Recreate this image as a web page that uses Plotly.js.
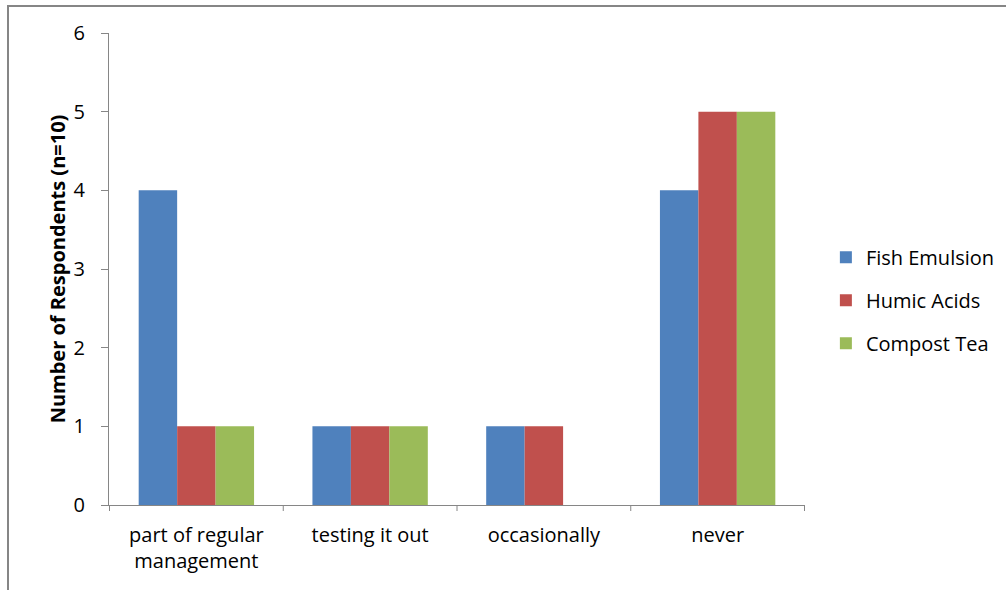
<!DOCTYPE html>
<html>
<head>
<meta charset="utf-8">
<script src="https://cdn.plot.ly/plotly-3.0.1.min.js"></script>
<style>
html,body{margin:0;padding:0;background:#fff;}
#wrap{position:relative;width:1006px;height:590px;}
#frame{position:absolute;left:7px;top:5px;width:999px;height:585px;border-left:2px solid #868686;border-top:2px solid #868686;box-sizing:border-box;pointer-events:none;z-index:5;}
#chart{position:absolute;left:0;top:0;width:1006px;height:590px;}
</style>
</head>
<body>
<div id="wrap"><div id="chart"></div><div id="frame"></div></div>
<script>
const categories = ["part of regular<br>management", "testing it out", "occasionally", "never"];
const fishEmulsion = [4, 1, 1, 4];
const humicAcids = [1, 1, 1, 5];
const compostTea = [1, 1, 0, 5];
const seriesNames = ["Fish Emulsion", "Humic Acids", "Compost Tea"];
const yTicks = [0, 1, 2, 3, 4, 5, 6];

const colors = ["#4F81BD", "#C0504D", "#9BBB59"];
const font = "'Open Sans', sans-serif";
const series = [fishEmulsion, humicAcids, compostTea];

const data = series.map((vals, i) => ({
  type: "bar",
  x: categories,
  y: vals,
  name: seriesNames[i],
  legendgroup: "g" + i,
  marker: {color: colors[i], line: {width: 0}},
  hoverinfo: "x+y+name"
}));

const layout = {
  width: 1006,
  height: 590,
  margin: {l: 109, r: 201, t: 33, b: 85, pad: 0, autoexpand: false},
  paper_bgcolor: "#fff",
  plot_bgcolor: "#fff",
  barmode: "group",
  bargap: 0.336,
  bargroupgap: 0,
  font: {family: font, size: 20, color: "#000"},
  xaxis: {
    type: "category",
    showline: true,
    linecolor: "#868686",
    linewidth: 1,
    ticks: "",
    showgrid: false,
    zeroline: false,
    automargin: false,
    tickfont: {family: font, size: 20, color: "#000"},
    ticklabelstandoff: 12
  },
  yaxis: {
    range: [0, 6],
    tickvals: yTicks,
    showline: true,
    linecolor: "#868686",
    linewidth: 1,
    ticks: "outside",
    ticklen: 7,
    tickcolor: "#868686",
    showgrid: false,
    zeroline: false,
    automargin: false,
    tickfont: {family: font, size: 20, color: "#000"},
    ticklabelstandoff: 12,
    title: {text: "<b>Number of Respondents (n=10)</b>", font: {family: font, size: 20, color: "#000"}, standoff: 2}
  },
  legend: {
    x: 1.03, xanchor: "left",
    y: 0.434, yanchor: "middle",
    font: {family: font, size: 20, color: "#000"},
    tracegroupgap: 14,
    itemwidth: 30,
    bgcolor: "rgba(0,0,0,0)"
  },
  shapes: [0, 1, 2, 3, 4].map(k => ({
    type: "line", xref: "x", yref: "paper",
    x0: k - 0.5, x1: k - 0.5,
    yanchor: 0, ysizemode: "pixel",
    y0: 0, y1: -6,
    line: {color: "#868686", width: 1}
  }))
};

Plotly.newPlot("chart", data, layout, {displayModeBar: false, staticPlot: true});
</script>
</body>
</html>
